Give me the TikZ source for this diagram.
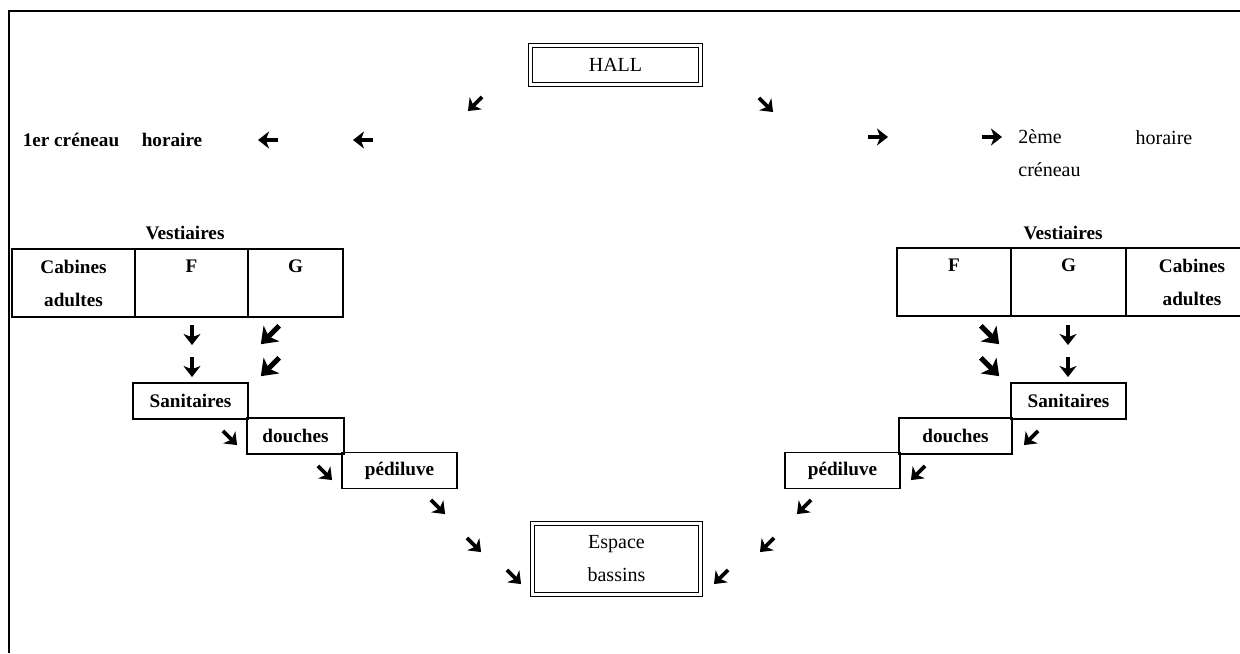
\documentclass[tikz,border=0pt]{standalone}
\usepackage{fontspec}
\setmainfont{Liberation Serif}
\usetikzlibrary{arrows.meta,positioning}

\begin{document}
\begin{tikzpicture}
  [
    x=0.5pt, y=-0.5pt,
    Label/.style={inner sep=0pt, align=center, font=\fontsize{10}{16.5}\selectfont},
    Bold/.style={Label, font=\fontsize{9.6}{16.5}\selectfont\bfseries},
    Room/.style={draw, double, line width=0.7pt, double distance=1.3pt, Label, minimum width=85pt},
    Cell/.style={draw, line width=1.2pt, outer sep=0pt, Bold, minimum height=34pt},
    Stair/.style={draw, line width=0.9pt, Bold, minimum height=18pt, minimum width=57.5pt},
    Flow/.style={line width=1.9pt, -{Stealth[length=5.5pt, width=8.5pt, inset=1.6pt]}},
    FlowBig/.style={line width=2.6pt, -{Stealth[length=7.5pt, width=11pt, inset=2pt]}}
  ]
  \useasboundingbox (0,0) rectangle (1240,653);
  % Frame
  \draw[line width=1pt] (9,653) -- (9,11) -- (1240,11);
  % Rooms
  \node[Room, minimum height=19.5pt] (hall) at (615.5,65) {HALL};
  \node[Room, minimum width=84pt, minimum height=35.5pt] (bassins) at (616.5,559) {Espace\\bassins};
  % Time slots
  \node[Bold] (creneau1) at (71,140) {1er créneau};
  \node[Bold] (horaire1) at (172,140) {horaire};
  \node[Label, anchor=west, align=left] (creneau2) at (1018,153) {2ème\\créneau};
  \node[Label] (horaire2) at (1164,138) {horaire};
  % Changing rooms
  \node[Bold] (vestL) at (185,233) {Vestiaires};
  \node[Cell, minimum width=61.5pt] (cabL) at (73.5,283) {Cabines\\adultes};
  \node[Cell, minimum width=56.5pt, right=0pt of cabL] (fL) {F\\\phantom{adultes}};
  \node[Cell, minimum width=47.5pt, right=0pt of fL] (gL) {G\\\phantom{adultes}};
  \node[Bold] (vestR) at (1063,233) {Vestiaires};
  \node[Cell, minimum width=57pt] (fR) at (954,282) {F\\\phantom{adultes}};
  \node[Cell, minimum width=57.5pt, right=0pt of fR] (gR) {G\\\phantom{adultes}};
  \node[Cell, minimum width=66pt, right=0pt of gR] (cabR) {Cabines\\adultes};
  % Stairs
  \node[Stair] (sanL) at (190.5,401) {Sanitaires};
  \node[Stair, minimum width=48.5pt] (douL) at (295.5,436) {douches};
  \node[Stair] (pedL) at (399.5,470.5) {pédiluve};
  \node[Stair] (sanR) at (1068.5,401) {Sanitaires};
  \node[Stair, minimum width=56.5pt] (douR) at (955.5,436) {douches};
  \node[Stair] (pedR) at (842.5,470.5) {pédiluve};
  % Arrows
  \foreach \x/\y/\a in {475/104/135, 766/105/45, 268/140/180, 363/140/180,
      878/137/0, 992/137/0, 192/335/90, 192/367/90, 1068/335/90, 1068/367/90,
      230/438/45, 325/473/45, 438/507/45, 474/545/45, 514/577/45,
      1031/438/135, 918/473/135, 804/507/135, 767/545/135, 721/577/135}
    \draw[Flow] (\x,\y) +(\a+180:10) -- +(\a:10);
  \foreach \x/\y/\a in {270/335/135, 270/367/135, 990/335/45, 990/367/45}
    \draw[FlowBig] (\x,\y) +(\a+180:13) -- +(\a:13);
\end{tikzpicture}
\end{document}
